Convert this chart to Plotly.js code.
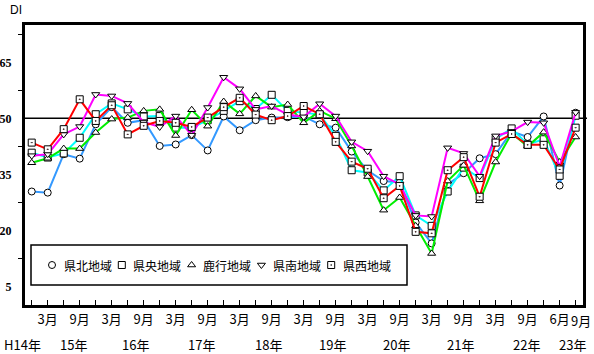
<!DOCTYPE html>
<html>
<head>
<meta charset="utf-8">
<script src="https://cdn.plot.ly/plotly-3.0.1.min.js"></script>
<style>html,body{margin:0;padding:0;background:#fff;}#chart{width:594px;height:354px;}</style>
</head>
<body>
<div id="chart"></div>
<script>
// ---- data ----
const periods = ['H14/12','H15/3','H15/6','H15/9','H15/12','H16/3','H16/6','H16/9','H16/12',
  'H17/3','H17/6','H17/9','H17/12','H18/3','H18/6','H18/9','H18/12','H19/3','H19/6','H19/9','H19/12',
  'H20/3','H20/6','H20/9','H20/12','H21/3','H21/6','H21/9','H21/12','H22/3','H22/6','H22/9','H22/12',
  'H23/6','H23/9'];
const monthLabels = ['','3月','','9月','','3月','','9月','','3月','','9月','','3月','','9月','',
  '3月','','9月','','3月','','9月','','3月','','9月','','3月','','9月','','6月','9月'];
const yearLabels = ['H14年','15年','16年','17年','18年','19年','20年','21年','22年','23年'];
const seriesNames = ['県北地域','県央地域','鹿行地域','県南地域','県西地域'];
const kenpoku = [30.4,30.1,40.4,39.2,48.4,53.0,48.8,49.5,42.6,43.0,45.5,41.4,50.5,46.8,49.5,50.2,50.3,50.5,48.4,47.5,41.1,36.0,33.2,32.8,22.1,16.5,32.3,35.3,39.3,40.4,46.5,45.0,50.5,32.0,51.5];
const kenou   = [40.8,39.5,40.6,44.8,51.1,54.0,52.4,50.5,50.6,47.5,47.5,49.5,52.0,54.6,52.5,56.3,52.0,51.6,51.0,45.3,36.1,35.5,30.7,34.5,24.0,21.2,30.4,36.8,34.0,44.5,47.3,43.0,44.4,34.6,50.7];
const rokko   = [38.1,39.3,41.9,41.9,46.2,49.8,50.2,52.0,52.4,45.4,52.3,47.9,54.5,51.2,56.0,53.0,53.7,48.8,52.0,49.9,42.6,34.4,25.4,28.8,21.2,13.8,33.2,37.4,27.9,38.3,46.0,42.5,46.3,38.3,45.0];
const kennan  = [40.0,40.4,45.7,47.8,56.4,56.0,54.0,49.0,47.7,50.6,45.5,52.9,61.0,57.9,52.4,53.3,51.0,50.4,53.9,50.6,43.7,41.2,34.5,32.3,24.0,23.7,42.1,40.6,34.5,45.3,46.5,49.0,48.8,37.1,51.6];
const kensei  = [43.5,41.7,47.1,55.1,49.3,53.5,45.7,48.0,49.3,48.8,47.7,50.2,53.0,55.5,51.0,49.5,50.6,53.3,51.1,43.7,38.4,36.5,28.6,31.9,19.6,19.2,36.1,39.6,29.0,43.5,45.8,42.9,42.9,36.3,47.5];

// ---- styles ----
const seriesData = [kenpoku, kenou, rokko, kennan, kensei];
const colors = ['#3399ff','#00ffff','#00ee00','#ff00ff','#ff0000'];
const symbols = ['circle','square','triangle-up','triangle-down','square-dot'];
const legendIds = ['legend','legend2','legend3','legend4','legend5'];
const mk = i => ({symbol:symbols[i], size:7, color:'#ffffff', line:{color:'#000000', width:1}});

const traces = seriesData.map((d,i)=>({
  type:'scatter', mode:'lines+markers', name:seriesNames[i], x:periods, y:d,
  showlegend:false,
  line:{color:colors[i], width:2},
  marker:mk(i),
  cliponaxis:false
}));
// legend symbols (marker only, no data); names drawn as text next to them
seriesNames.forEach((n,i)=>traces.push({
  type:'scatter', mode:'markers', name:'', x:[null], y:[null],
  legend:legendIds[i], showlegend:true, marker:mk(i)
}));

const W=594,H=354,L=25,R=11,T=25,B=49;
const pw=W-L-R, ph=H-T-B;
const xr=[-0.42,34.46];
const toPX = idx => (idx - xr[0])/(xr[1]-xr[0]);
const pxX = px => (px-L)/pw;
const pxY = py => (H-B-py)/ph;
const yearPos = [-0.6,2.6,6.5,10.6,14.8,18.8,22.8,26.8,30.9,33.8];
const last = monthLabels.length-1;

const annotations = yearLabels.map((t,i)=>({
  text:t, xref:'paper', yref:'paper', x:toPX(yearPos[i]), y:pxY(344),
  xanchor:'center', yanchor:'middle', showarrow:false,
  font:{family:'Noto Sans CJK JP', size:13, color:'#000'}
}));
annotations.push({text:monthLabels[last], xref:'paper', yref:'paper', x:pxX(581), y:pxY(320),
  xanchor:'center', yanchor:'middle', showarrow:false,
  font:{family:'Noto Sans CJK JP', size:13, color:'#000'}});
annotations.push({text:'DI', xref:'paper', yref:'paper', x:pxX(8), y:pxY(10),
  xanchor:'left', yanchor:'middle', showarrow:false,
  font:{family:'Liberation Sans', size:12, color:'#000'}});
seriesNames.forEach((n,i)=>annotations.push({
  text:n, xref:'paper', yref:'paper', x:pxX(61.5 + 69.8*i), y:pxY(265),
  xanchor:'left', yanchor:'middle', showarrow:false,
  font:{family:'Noto Sans CJK JP', size:12, color:'#000'}
}));

const layout = {
  width:W, height:H, margin:{l:L,r:R,t:T,b:B},
  paper_bgcolor:'#fff', plot_bgcolor:'#fff',
  showlegend:true,
  xaxis:{type:'category', range:xr, tickmode:'array', tickvals:periods,
    ticktext:monthLabels.map((s,i)=> i===last ? '' : s),
    tickangle:0, automargin:false,
    ticks:'inside', ticklen:5, tickwidth:1.5, tickcolor:'#000',
    showline:true, linewidth:3, linecolor:'#000', mirror:true, showgrid:false, zeroline:false,
    tickfont:{family:'Noto Sans CJK JP', size:13, color:'#000'}},
  yaxis:{range:[0,75], tickmode:'array', tickvals:[5,20,35,50,65], ticks:'', automargin:false,
    minor:{tick0:12.5, dtick:15, ticks:'outside', ticklen:4, tickwidth:1.5, tickcolor:'#000', showgrid:false},
    showline:true, linewidth:3, linecolor:'#000', mirror:true, showgrid:false, zeroline:false,
    ticklabelstandoff:8,
    tickfont:{family:'Liberation Serif', size:12, color:'#000', weight:'bold'}},
  shapes:[
    {type:'line', xref:'paper', yref:'y', x0:0, x1:pxX(587), y0:50, y1:50, layer:'below',
      line:{color:'#000', width:1.5}},
    {type:'rect', xref:'paper', yref:'paper', x0:pxX(31), x1:pxX(407), y0:pxY(285), y1:pxY(245),
      layer:'above', fillcolor:'#fff', line:{color:'#000', width:1.5}}
  ],
  annotations:annotations
};
legendIds.forEach((id,i)=>{
  layout[id] = {orientation:'h', x:pxX(32 + 69.8*i), y:pxY(265), xanchor:'left', yanchor:'middle',
    bgcolor:'rgba(0,0,0,0)', borderwidth:0, itemwidth:30,
    font:{family:'Noto Sans CJK JP', size:12, color:'#000'}};
});

Plotly.newPlot('chart', traces, layout, {displayModeBar:false, staticPlot:true});
</script>
</body>
</html>
